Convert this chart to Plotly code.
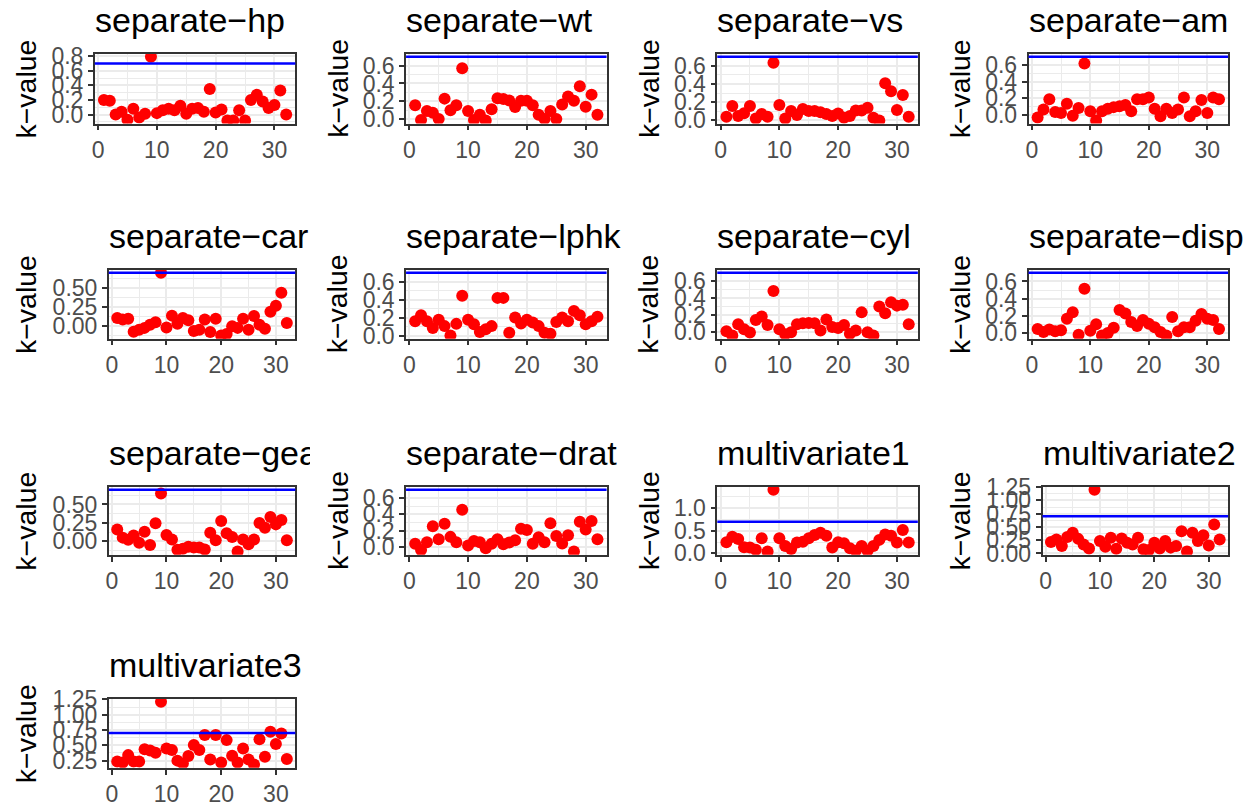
import plotly.graph_objects as go

obs = list(range(1, 33))
THRESH = 0.7

titles = ["separate−hp", "separate−wt", "separate−vs", "separate−am",
          "separate−carb", "separate−lphk", "separate−cyl", "separate−disp",
          "separate−gear", "separate−drat", "multivariate1", "multivariate2",
          "multivariate3"]

k_hp = [0.20, 0.19, 0.00, 0.04, -0.07, 0.08, -0.04, 0.01, 0.79, 0.02, 0.06, 0.08, 0.06, 0.12, 0.01, 0.08,
        0.09, 0.04, 0.35, 0.03, 0.07, -0.08, -0.08, 0.06, -0.08, 0.20, 0.27, 0.18, 0.09, 0.13, 0.33, 0.00]
k_wt = [0.155, -0.01, 0.09, 0.07, 0.00, 0.23, 0.10, 0.155, 0.57, 0.09, -0.01, 0.05, -0.015, 0.11, 0.235, 0.225,
        0.21, 0.135, 0.205, 0.205, 0.155, 0.05, 0.00, 0.09, 0.00, 0.165, 0.255, 0.205, 0.37, 0.14, 0.275, 0.05]
k_vs = [0.04, 0.16, 0.05, 0.08, 0.16, 0.02, 0.07, 0.04, 0.635, 0.17, 0.02, 0.105, 0.06, 0.125, 0.105, 0.105,
        0.09, 0.07, 0.05, 0.075, 0.03, 0.05, 0.11, 0.11, 0.14, 0.03, 0.0, 0.41, 0.32, 0.115, 0.28, 0.04]
k_am = [-0.03, 0.065, 0.19, 0.035, 0.025, 0.135, -0.01, 0.085, 0.62, 0.045, -0.065, 0.045, 0.075, 0.095, 0.105, 0.12,
        0.045, 0.19, 0.19, 0.21, 0.075, -0.015, 0.075, 0.025, 0.065, 0.21, -0.015, 0.045, 0.18, 0.025, 0.21, 0.19]
k_carb = [0.11, 0.09, 0.10, -0.07, -0.045, -0.02, 0.02, 0.055, 0.70, -0.015, 0.14, 0.035, 0.11, 0.08, -0.06, -0.045,
          0.09, -0.075, 0.10, -0.12, -0.10, 0.0, -0.02, 0.10, -0.045, 0.135, 0.02, -0.03, 0.19, 0.27, 0.44, 0.045]
k_lphk = [0.16, 0.225, 0.16, 0.085, 0.175, 0.105, 0.0, 0.13, 0.445, 0.175, 0.125, 0.04, 0.07, 0.105, 0.42, 0.42,
          0.03, 0.2, 0.135, 0.175, 0.145, 0.105, 0.03, 0.02, 0.15, 0.2, 0.16, 0.275, 0.225, 0.125, 0.16, 0.21]
k_cyl = [0.005, -0.045, 0.09, 0.03, -0.01, 0.14, 0.18, 0.08, 0.485, 0.03, -0.03, -0.005, 0.09, 0.10, 0.105, 0.10,
         0.015, 0.145, 0.055, 0.045, 0.08, -0.025, 0.015, 0.23, -0.005, -0.045, 0.30, 0.22, 0.35, 0.31, 0.32, 0.09]
k_disp = [0.05, 0.015, 0.045, 0.025, 0.035, 0.17, 0.245, -0.015, 0.515, 0.03, 0.105, -0.025, 0.005, 0.065, 0.27, 0.23,
          0.13, 0.085, 0.155, 0.11, 0.07, 0.015, -0.025, 0.19, 0.025, 0.07, 0.07, 0.145, 0.225, 0.17, 0.155, 0.05]
k_gear = [0.16, 0.05, 0.02, 0.08, -0.02, 0.13, -0.05, 0.245, 0.65, 0.085, 0.025, -0.115, -0.10, -0.075, -0.085, -0.085,
          -0.11, 0.115, 0.015, 0.275, 0.11, 0.06, -0.14, 0.025, -0.04, 0.025, 0.25, 0.185, 0.33, 0.23, 0.29, 0.015]
k_drat = [0.04, -0.035, 0.06, 0.255, 0.095, 0.285, 0.125, 0.06, 0.455, 0.02, 0.075, 0.06, -0.015, 0.04, 0.095, 0.035,
          0.055, 0.085, 0.225, 0.21, 0.04, 0.12, 0.06, 0.29, 0.135, 0.045, 0.145, -0.055, 0.31, 0.215, 0.32, 0.095]
k_mv1 = [0.245, 0.37, 0.32, 0.135, 0.13, 0.08, 0.335, 0.04, 1.41, 0.335, 0.165, 0.10, 0.24, 0.26, 0.335, 0.41,
         0.46, 0.39, 0.13, 0.245, 0.225, 0.115, 0.06, 0.165, 0.06, 0.165, 0.30, 0.42, 0.39, 0.24, 0.52, 0.24]
k_mv2 = [0.215, 0.265, 0.14, 0.31, 0.39, 0.275, 0.17, 0.095, 1.20, 0.235, 0.125, 0.295, 0.09, 0.28, 0.20, 0.17,
         0.295, 0.08, 0.065, 0.20, 0.095, 0.235, 0.11, 0.14, 0.42, 0.035, 0.39, 0.235, 0.345, 0.15, 0.545, 0.265]
k_mv3 = [0.235, 0.22, 0.34, 0.235, 0.235, 0.435, 0.415, 0.38, 1.21, 0.45, 0.425, 0.25, 0.205, 0.325, 0.505, 0.425,
         0.67, 0.27, 0.67, 0.22, 0.585, 0.33, 0.22, 0.45, 0.27, 0.185, 0.60, 0.315, 0.72, 0.52, 0.695, 0.275]

series = [k_hp, k_wt, k_vs, k_am, k_carb, k_lphk, k_cyl, k_disp, k_gear, k_drat, k_mv1, k_mv2, k_mv3]
y_dticks = [0.2, 0.2, 0.2, 0.2, 0.25, 0.2, 0.2, 0.2, 0.25, 0.2, 0.5, 0.25, 0.25]
y_formats = [".1f", ".1f", ".1f", ".1f", ".2f", ".1f", ".1f", ".1f", ".2f", ".1f", ".1f", ".2f", ".2f"]

# layout (target screen pixels): panel left/right per panel, top/bottom per row, cell left per column
W, H = 1255, 805
X_OFF = 8            # horizontal page offset of the figure
Y_OFF, Y_SC = 19.4, 0.970   # observed vertical mapping of the figure on screen
panel_lr = [(92, 293), (404, 605), (716, 917), (1028, 1228),
            (106, 293), (404, 605), (716, 917), (1028, 1228),
            (106, 293), (404, 605), (716, 917), (1042, 1228),
            (106, 293)]
row_tb = [(53, 123), (269, 338), (486, 554), (698, 767)]
cell_left = [0, 312, 624, 936]
clip_right = [None, None, None, None, 307, None, None, None, 307, None, None, None, None]


def px(x):
    return (x - X_OFF) / W


def py(y):
    return 1 - ((y - Y_OFF) / Y_SC) / H


FONT = "Liberation Sans, Arial, Helvetica, sans-serif"
GRID = "#EBEBEB"
DARK = "#333333"

fig = go.Figure()
annotations = []
shapes = []
layout_axes = {}

for i, (vals, title) in enumerate(zip(series, titles)):
    n = i + 1
    sfx = "" if n == 1 else str(n)
    row, col = divmod(i, 4)
    left, right = panel_lr[i]
    top, bottom = row_tb[row]
    xd = [px(left), px(right)]
    yd = [py(bottom), py(top)]

    lo = min(min(vals), THRESH)
    hi = max(max(vals), THRESH)
    pad = 0.05 * (hi - lo)
    xlo, xhi = min(obs), max(obs)
    xpad = 0.05 * (xhi - xlo)

    common = dict(
        showline=True, mirror=True, linecolor=DARK, linewidth=1.6,
        ticks="outside", ticklen=5, tickwidth=1.5, tickcolor=DARK,
        tickfont=dict(family=FONT, size=23, color="#4D4D4D"),
        showgrid=True, gridcolor=GRID, gridwidth=2, zeroline=False,
        fixedrange=True,
    )
    layout_axes[f"xaxis{sfx}"] = dict(
        domain=xd, anchor=f"y{sfx}", range=[xlo - xpad, xhi + xpad],
        tick0=0, dtick=10,
        minor=dict(dtick=5, tick0=0, showgrid=True, gridcolor=GRID, gridwidth=1, ticks=""),
        **common)
    layout_axes[f"yaxis{sfx}"] = dict(
        domain=yd, anchor=f"x{sfx}", range=[lo - pad, hi + pad],
        tick0=0, dtick=y_dticks[i], tickformat=y_formats[i],
        minor=dict(dtick=y_dticks[i] / 2, tick0=0, showgrid=True, gridcolor=GRID, gridwidth=1, ticks=""),
        **common)

    fig.add_trace(go.Scatter(
        x=obs, y=vals, xaxis=f"x{sfx}", yaxis=f"y{sfx}", mode="markers",
        marker=dict(color="#FF0000", size=12, line=dict(width=0)),
        showlegend=False, hoverinfo="skip"))

    shapes.append(dict(type="line", xref=f"x{sfx} domain", yref=f"y{sfx}",
                       x0=0, x1=1, y0=THRESH, y1=THRESH, layer="above",
                       line=dict(color="#0000FF", width=2.5)))

    ann = dict(text=title, xref="paper", yref="paper",
               x=px(left), y=py(top - 15), xanchor="left", yanchor="bottom",
               showarrow=False, align="left", borderpad=0, borderwidth=0,
               font=dict(family=FONT, size=34, color="black"))
    if clip_right[i] is not None:
        ann["width"] = clip_right[i] - left
    annotations.append(ann)

    annotations.append(dict(text="k−value", xref="paper", yref="paper",
                            x=px(cell_left[col] + 23), y=py((top + bottom) / 2),
                            xanchor="center", yanchor="middle", textangle=-90,
                            showarrow=False, borderpad=0, borderwidth=0,
                            font=dict(family=FONT, size=28.5, color="black")))

fig.update_layout(
    width=W, height=H, margin=dict(l=0, r=0, t=0, b=0),
    paper_bgcolor="white", plot_bgcolor="white",
    annotations=annotations, shapes=shapes, **layout_axes)

fig.write_html("out.html")
